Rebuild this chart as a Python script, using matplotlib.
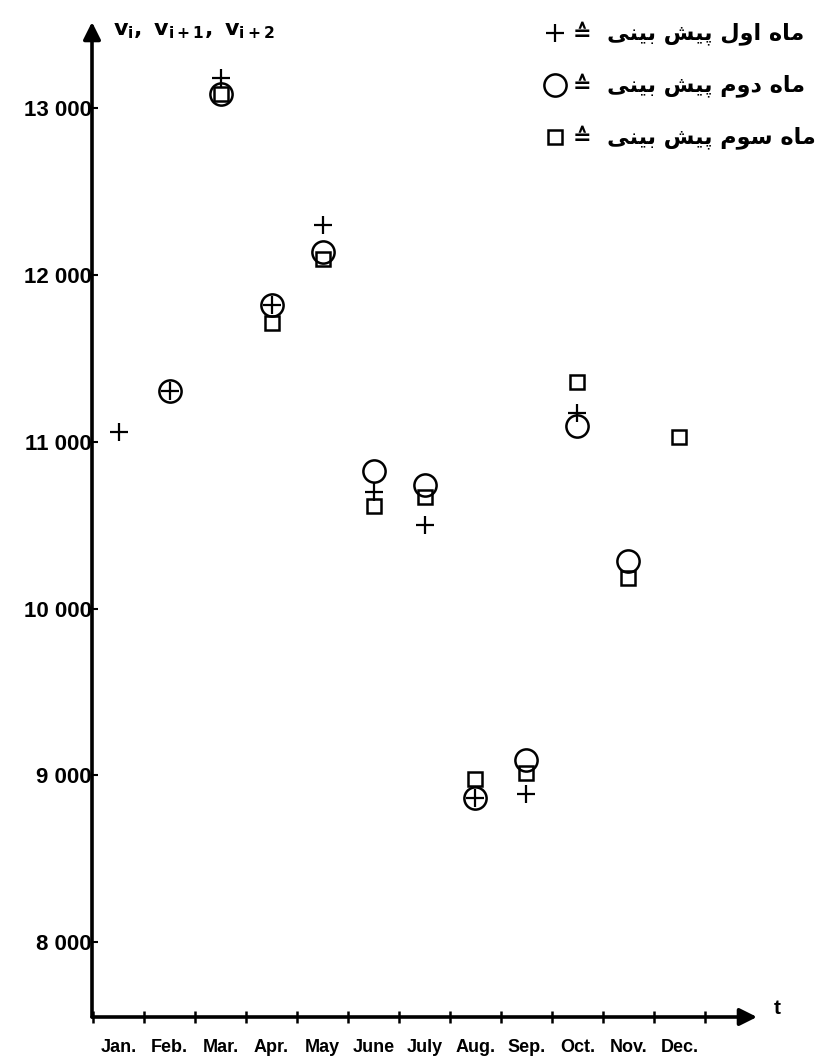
import numpy as np
import matplotlib
matplotlib.use("Agg")
import matplotlib.pyplot as plt
from matplotlib.lines import Line2D

plt.rcParams['font.family'] = ['Liberation Sans', 'DejaVu Sans']

months = ['Jan.', 'Feb.', 'Mar.', 'Apr.', 'May', 'June', 'July',
          'Aug.', 'Sep.', 'Oct.', 'Nov.', 'Dec.']
# forecast made for the next month (+), starts Jan
first_month = [11060, 11305, 13180, 11820, 12300, 10700, 10500, 8865, 8890, 11175]
# forecast two months ahead (o), starts Feb
second_month = [11305, 13085, 11820, 12140, 10825, 10740, 8865, 9095, 11095, 10285]
# forecast three months ahead (square), starts Mar
third_month = [13085, 11710, 12095, 10615, 10670, 8980, 9015, 11360, 10185, 11030]

yticks = [8000, 9000, 10000, 11000, 12000, 13000]
ytick_labels = ['8 000', '9 000', '10 000', '11 000', '12 000', '13 000']
legend_texts = ['ماه اول پیش بینی', 'ماه دوم پیش بینی', 'ماه سوم پیش بینی']

# minimal arabic shaping (matplotlib has no bidi / joining support)
FORMS = {
    'ا': ('\uFE8D', '\uFE8E', None, None),
    'د': ('\uFEA9', '\uFEAA', None, None),
    'و': ('\uFEED', '\uFEEE', None, None),
    'ب': ('\uFE8F', '\uFE90', '\uFE91', '\uFE92'),
    'پ': ('\uFB56', '\uFB57', '\uFB58', '\uFB59'),
    'س': ('\uFEB1', '\uFEB2', '\uFEB3', '\uFEB4'),
    'ش': ('\uFEB5', '\uFEB6', '\uFEB7', '\uFEB8'),
    'ل': ('\uFEDD', '\uFEDE', '\uFEDF', '\uFEE0'),
    'م': ('\uFEE1', '\uFEE2', '\uFEE3', '\uFEE4'),
    'ن': ('\uFEE5', '\uFEE6', '\uFEE7', '\uFEE8'),
    'ه': ('\uFEE9', '\uFEEA', '\uFEEB', '\uFEEC'),
    'ی': ('\uFBFC', '\uFBFD', '\uFBFE', '\uFBFF'),
}


def shape_word(w):
    out = []
    for i, c in enumerate(w):
        if c not in FORMS:
            out.append(c)
            continue
        iso, fin, ini, med = FORMS[c]
        prev = w[i - 1] if i > 0 else None
        nxt = w[i + 1] if i + 1 < len(w) else None
        jp = prev in FORMS and FORMS[prev][2] is not None
        jn = ini is not None and nxt in FORMS
        if jp and jn:
            out.append(med)
        elif jp:
            out.append(fin)
        elif jn:
            out.append(ini)
        else:
            out.append(iso)
    return ''.join(out)


def rtl(text):
    return ' '.join(shape_word(w) for w in text.split(' '))[::-1]


fig = plt.figure(figsize=(8.3, 10.61), dpi=100)
W, H = 830, 1061
x0, x1, y0, y1 = 92, 757, 1017, 22
ax = fig.add_axes([x0 / W, 1 - y0 / H, (x1 - x0) / W, (y0 - y1) / H])
ax.set_xlim(-0.02, 13.02)
ax.set_ylim(7552, 13517)
for s in ax.spines.values():
    s.set_visible(False)

kw = dict(ls='none', color='black', clip_on=False)
ax.plot(np.arange(len(first_month)) + 0.5, first_month, marker='+',
        ms=13, mew=1.6, **kw)
ax.plot(np.arange(len(second_month)) + 1.5, second_month, marker='o',
        ms=16, mew=1.8, mfc='none', **kw)
ax.plot(np.arange(len(third_month)) + 2.5, third_month, marker='s',
        ms=10, mew=1.8, mfc='none', **kw)

# axes with arrow heads
ax.annotate('', xy=(1, 0), xytext=(0, 0), xycoords='axes fraction',
            arrowprops=dict(arrowstyle='-|>', lw=2.6, color='black',
                            mutation_scale=26, shrinkA=0, shrinkB=0))
ax.annotate('', xy=(0, 1), xytext=(0, 0), xycoords='axes fraction',
            arrowprops=dict(arrowstyle='-|>', lw=2.6, color='black',
                            mutation_scale=26, shrinkA=0, shrinkB=0))

ax.set_xticks(np.arange(13))
ax.set_xticklabels([])
ax.tick_params(axis='x', which='major', direction='inout', length=9, width=1.8)
ax.set_xticks(np.arange(12) + 0.5, minor=True)
ax.set_xticklabels(months, minor=True, fontsize=13, fontweight='bold')
ax.tick_params(axis='x', which='minor', length=0, pad=16)

ax.set_yticks(yticks)
ax.set_yticklabels(ytick_labels, fontsize=16, fontweight='bold')
ax.tick_params(axis='y', direction='in', length=4, width=1.5, pad=0)

fig.text(113 / W, 1 - 30 / H, r'$\mathbf{v_{i},\ v_{i+1},\ v_{i+2}}$',
         fontsize=16, va='center', ha='left')
fig.text(777 / W, 1 - 1008 / H, 't', fontsize=15, fontweight='bold',
         va='center', ha='center')

handles = [Line2D([], [], marker='+', ms=13, mew=1.6, ls='none', color='black'),
           Line2D([], [], marker='o', ms=16, mew=1.8, mfc='none', ls='none', color='black'),
           Line2D([], [], marker='s', ms=10, mew=1.8, mfc='none', ls='none', color='black')]
labels = ['\u2259  ' + rtl(t) for t in legend_texts]
fig.legend(handles, labels, loc='upper right', bbox_to_anchor=(827 / W, 1 - 11 / H),
           frameon=False, borderpad=0, handlelength=1.0, handletextpad=0.3,
           labelspacing=1.25, prop=dict(family=['DejaVu Sans'], weight='bold', size=16))

fig.savefig('out.png', dpi=100)
